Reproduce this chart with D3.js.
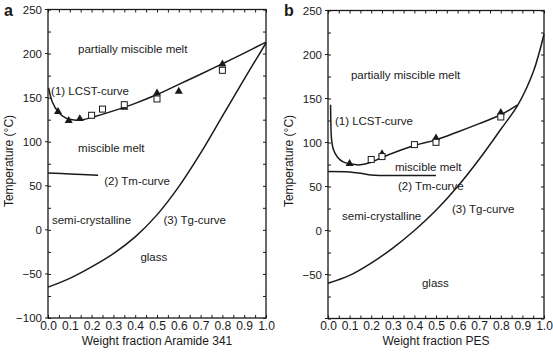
<!DOCTYPE html>
<html>
<head>
<meta charset="utf-8">
<script src="https://cdn.jsdelivr.net/npm/d3@7"></script>
<style>
  body { margin: 0; background: #fff; }
  svg { display: block; font-family: "Liberation Sans", Arial, sans-serif; }
</style>
</head>
<body>
<div id="chart"></div>
<script>
////////////////////////////////////////////////////////////////////////
// Data (x = weight fraction, y = temperature in C)

const xTickValues = d3.range(0, 1.0001, 0.05).map(v => +v.toFixed(2));
const yTickValues = d3.range(-100, 251, 25);

// panel a : Aramide 341
const lcstA = [[0.003, 161], [0.02, 145], [0.046, 134], [0.08, 127], [0.12, 124.5], [0.16, 125],
               [0.2, 127.5], [0.3, 135], [0.4, 143.5], [0.5, 153.5], [0.6, 165], [0.7, 176.5],
               [0.8, 188.5], [0.9, 200.5], [1.0, 213]];
const tmA = [[0, 64.5], [0.1, 63.5], [0.23, 62]];
const tgA = [[0, -65], [0.1, -55], [0.2, -42], [0.3, -27], [0.4, -8], [0.5, 17], [0.6, 49],
             [0.7, 87], [0.8, 129], [0.9, 171], [1.0, 212]];
const trianglesA = [[0.046, 134], [0.095, 124], [0.146, 126], [0.35, 139], [0.5, 155], [0.6, 157], [0.8, 188]];
const squaresA = [[0.2, 130], [0.25, 137], [0.35, 142], [0.5, 148.5], [0.8, 181]];

// panel b : PES
const lcstB = [[0.012, 143], [0.013, 125], [0.016, 105], [0.025, 92], [0.045, 83], [0.07, 78],
               [0.1, 75.8], [0.15, 74.6], [0.2, 77.5], [0.25, 83], [0.4, 96.5], [0.5, 103],
               [0.6, 112], [0.7, 121.5], [0.8, 131.5], [0.876, 142.4]];
const tmB = [[0, 67], [0.1, 66.5], [0.15, 65], [0.2, 63], [0.25, 62.5], [0.5, 62.5]];
const tgB = [[0, -60], [0.1, -51], [0.2, -37], [0.3, -20], [0.4, 0], [0.5, 23], [0.6, 50],
             [0.7, 81], [0.8, 115], [0.88, 143], [0.95, 180], [1.0, 223]];
const trianglesB = [[0.1, 76], [0.25, 87], [0.5, 105], [0.8, 134]];
const squaresB = [[0.2, 80.7], [0.25, 84], [0.4, 97.6], [0.5, 100.2], [0.8, 129]];

// region / curve annotations: [text, x, T]
const notesA = [["partially miscible melt", 0.138, 205], ["(1) LCST-curve", 0.014, 157.5],
                ["miscible melt", 0.138, 92.5], ["(2) Tm-curve", 0.258, 56],
                ["semi-crystalline", 0.018, 11], ["(3) Tg-curve", 0.53, 11], ["glass", 0.424, -31]];
const notesB = [["partially miscible melt", 0.106, 177], ["(1) LCST-curve", 0.032, 124],
                ["miscible melt", 0.31, 72.5], ["(2) Tm-curve", 0.324, 51],
                ["semi-crystalline", 0.065, 17], ["(3) Tg-curve", 0.574, 24], ["glass", 0.435, -60]];

////////////////////////////////////////////////////////////////////////

const width = 553, height = 355;
const ink = "#1a1a1a";

const svg = d3.select("#chart").append("svg")
  .attr("width", width).attr("height", height);

svg.append("rect").attr("width", width).attr("height", height).attr("fill", "#fff");

/**
 * Draws one phase diagram panel inside the box [left, right] x [top, bottom]
 */
function makePanel(opts) {
  let g = svg.append("g");

  let xScale = d3.scaleLinear().domain([0, 1]).range([opts.left, opts.right]);
  let yScale = d3.scaleLinear().domain([-100, 250]).range([opts.bottom, opts.top]);

  // bottom axis: inward ticks every 0.05, labels every 0.1
  let xAxis = g.append("g")
    .attr("transform", "translate(0," + opts.bottom + ")")
    .call(d3.axisBottom(xScale).tickValues(xTickValues).tickSizeInner(-3).tickSizeOuter(0).tickPadding(3)
      .tickFormat(d => Math.round(d * 100) % 10 === 0 ? d3.format(".1f")(d) : ""));

  // top axis: ticks only
  let xTop = g.append("g")
    .attr("transform", "translate(0," + opts.top + ")")
    .call(d3.axisTop(xScale).tickValues(xTickValues).tickSizeInner(-3).tickSizeOuter(0).tickFormat(""));

  // left axis
  let yAxis = g.append("g")
    .attr("transform", "translate(" + opts.left + ",0)")
    .call(d3.axisLeft(yScale).tickValues(yTickValues).tickSizeInner(-3).tickSizeOuter(0).tickPadding(6)
      .tickFormat(d => (d % 50 === 0 && opts.yLabels.includes(d)) ? d3.format("")(d) : ""));

  // small outward ticks at the labelled values
  yAxis.selectAll(".out-tick")
    .data(yTickValues.filter(d => d % 50 === 0))
    .enter().append("line")
    .attr("x1", -3).attr("x2", 0)
    .attr("y1", d => yScale(d)).attr("y2", d => yScale(d))
    .attr("stroke", ink);

  // right axis: ticks only
  let yRight = g.append("g")
    .attr("transform", "translate(" + opts.right + ",0)")
    .call(d3.axisRight(yScale).tickValues(yTickValues).tickSizeInner(-3).tickSizeOuter(0).tickFormat(""));

  [xAxis, xTop, yAxis, yRight].forEach(a => {
    a.select(".domain").remove();
    a.selectAll("line").attr("stroke", ink);
    a.selectAll("text").attr("fill", ink)
      .attr("font-family", "Liberation Sans, Arial, sans-serif");
  });
  xAxis.selectAll("text").attr("font-size", 12);
  yAxis.selectAll("text").attr("font-size", 11.5);

  // frame
  g.append("rect")
    .attr("x", opts.left).attr("y", opts.top)
    .attr("width", opts.right - opts.left).attr("height", opts.bottom - opts.top)
    .attr("fill", "none").attr("stroke", ink).attr("stroke-width", 1.3);

  let line = d3.line()
    .x(d => xScale(d[0]))
    .y(d => yScale(d[1]))
    .curve(d3.curveCatmullRom.alpha(0.5));

  [opts.lcst, opts.tm, opts.tg].forEach(curve => {
    g.append("path")
      .attr("d", line(curve))
      .attr("fill", "none")
      .attr("stroke", ink)
      .attr("stroke-width", 1.5);
  });

  // measured points
  g.append("g").selectAll("path")
    .data(opts.triangles)
    .enter().append("path")
    .attr("d", d3.symbol().type(d3.symbolTriangle).size(28))
    .attr("transform", d => "translate(" + xScale(d[0]) + "," + yScale(d[1]) + ")")
    .attr("fill", ink);

  g.append("g").selectAll("rect")
    .data(opts.squares)
    .enter().append("rect")
    .attr("x", d => xScale(d[0]) - 3).attr("y", d => yScale(d[1]) - 3)
    .attr("width", 6).attr("height", 6)
    .attr("fill", "#fff").attr("stroke", ink).attr("stroke-width", 1);

  // annotations
  g.append("g").selectAll("text")
    .data(opts.notes)
    .enter().append("text")
    .attr("x", d => xScale(d[1]))
    .attr("y", d => yScale(d[2]))
    .attr("dy", "0.35em")
    .attr("font-size", 11.5)
    .attr("fill", ink)
    .text(d => d[0]);

  // axis titles
  g.append("text")
    .attr("x", (opts.left + opts.right) / 2)
    .attr("y", 345)
    .attr("text-anchor", "middle")
    .attr("font-size", 12)
    .attr("fill", ink)
    .text(opts.xTitle);

  g.append("text")
    .attr("transform", "translate(" + (opts.left - 39) + ",161) rotate(-90)")
    .attr("text-anchor", "middle")
    .attr("dy", "0.35em")
    .attr("font-size", 12)
    .attr("fill", ink)
    .text("Temperature (°C)");

  // panel letter
  g.append("text")
    .attr("x", opts.left - 44)
    .attr("y", 16)
    .attr("font-size", 16)
    .attr("font-weight", "bold")
    .attr("fill", ink)
    .text(opts.letter);
}

makePanel({
  left: 48, right: 266, top: 9.5, bottom: 318,
  lcst: lcstA, tm: tmA, tg: tgA, triangles: trianglesA, squares: squaresA, notes: notesA,
  yLabels: [-100, -50, 0, 50, 100, 150, 200, 250],
  xTitle: "Weight fraction Aramide 341", letter: "a"
});

makePanel({
  left: 328, right: 544, top: 10.5, bottom: 318.5,
  lcst: lcstB, tm: tmB, tg: tgB, triangles: trianglesB, squares: squaresB, notes: notesB,
  yLabels: [-50, 0, 50, 100, 150, 200, 250],
  xTitle: "Weight fraction PES", letter: "b"
});
</script>
</body>
</html>
